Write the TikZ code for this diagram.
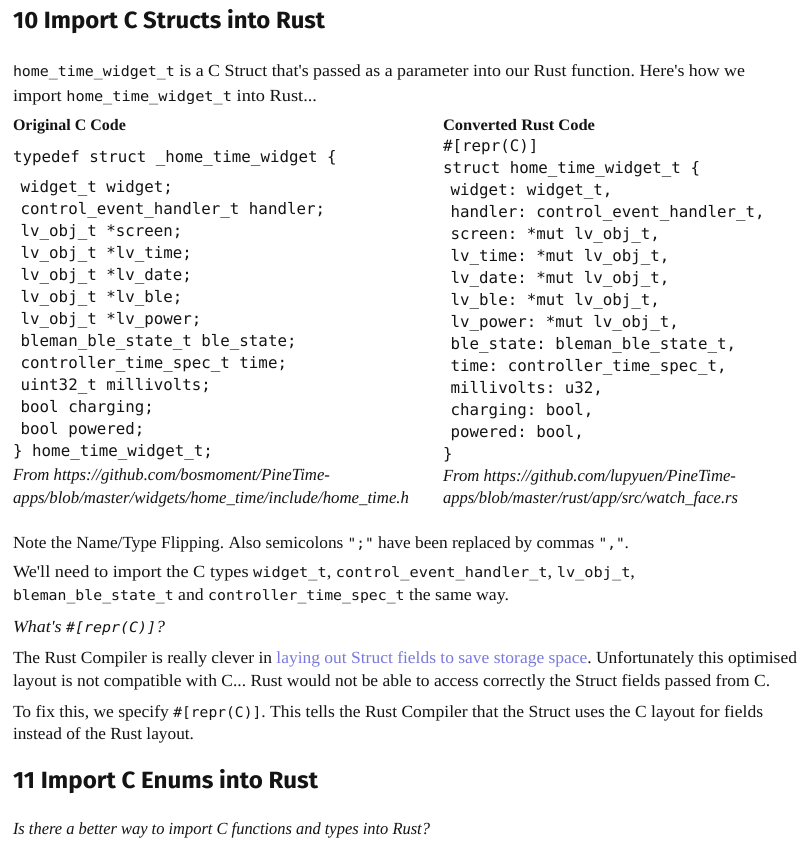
\documentclass[tikz,border=0pt]{standalone}
\usepackage{fontspec}
\usepackage{graphicx}
\setmainfont{Liberation Serif}
\setmonofont{DejaVu Sans Mono}
\newfontfamily\headfont{Fira Sans}
\definecolor{linkblue}{RGB}{122,122,222}
\definecolor{ink}{RGB}{20,20,20}
\frenchspacing
\tikzset{
  txt/.style={anchor=base west, inner sep=0pt, outer sep=0pt, text=ink, font=\fontsize{17}{19}\selectfont},
  head/.style={anchor=base west, inner sep=0pt, text=ink, font=\headfont\bfseries\fontsize{23.5}{26}\selectfont},
  sub/.style={txt, font=\bfseries\fontsize{16}{18}\selectfont},
  src/.style={txt, font=\itshape\fontsize{17}{19}\selectfont},
  code/.style={anchor=base west, inner sep=0pt, text=ink, font=\ttfamily\fontsize{15.8}{18}\selectfont},
}
\newcommand{\ic}[1]{{\ttfamily\fontsize{14.2}{18}\selectfont #1}}
\newcommand{\lsp}{\hspace*{7.5pt}}
\newcommand{\fitto}[2]{\resizebox{#1pt}{\height}{#2}}
\newcommand{\apos}{\textquotesingle}
\begin{document}
\begin{tikzpicture}[x=1pt,y=-1pt]
\useasboundingbox[fill=white] (0,0) rectangle (810,847);
\node[head] (h1) at (13,28) {\fitto{312}{10 Import C Structs into Rust}};
\node[txt] (p1a) at (13,76) {\fitto{732}{\ic{home\_time\_widget\_t} is a C Struct that\apos s passed as a parameter into our Rust function. Here\apos s how we}};
\node[txt] (p1b) at (13,101) {\fitto{304}{import \ic{home\_time\_widget\_t} into Rust...}};
\node[sub] (lh) at (13,130) {Original C Code};
\node[sub] (rh) at (443,130) {\fitto{152}{Converted Rust Code}};
% left code
\node[code] (l0) at (13,162) {typedef struct \_home\_time\_widget \{};
\node[code] (l1) at (13,192) {\lsp widget\_t widget;};
\node[code] (l2) at (13,214) {\lsp control\_event\_handler\_t handler;};
\node[code] (l3) at (13,236) {\lsp lv\_obj\_t *screen;};
\node[code] (l4) at (13,258) {\lsp lv\_obj\_t *lv\_time;};
\node[code] (l5) at (13,280) {\lsp lv\_obj\_t *lv\_date;};
\node[code] (l6) at (13,302) {\lsp lv\_obj\_t *lv\_ble;};
\node[code] (l7) at (13,324) {\lsp lv\_obj\_t *lv\_power;};
\node[code] (l8) at (13,346) {\lsp bleman\_ble\_state\_t ble\_state;};
\node[code] (l9) at (13,368) {\lsp controller\_time\_spec\_t time;};
\node[code] (l10) at (13,390) {\lsp uint32\_t millivolts;};
\node[code] (l11) at (13,412) {\lsp bool charging;};
\node[code] (l12) at (13,434) {\lsp bool powered;};
\node[code] (l13) at (13,456) {\} home\_time\_widget\_t;};
\node[src] (ls1) at (13,480) {\fitto{317}{From https://github.com/bosmoment/PineTime-}};
\node[src] (ls2) at (13,503) {\fitto{396}{apps/blob/master/widgets/home\_time/include/home\_time.h}};
% right code
\node[code] (r0) at (443,151) {\#[repr(C)]};
\node[code] (r00) at (443,173) {struct home\_time\_widget\_t \{};
\node[code] (r1) at (443,195) {\lsp widget: widget\_t,};
\node[code] (r2) at (443,217) {\lsp handler: control\_event\_handler\_t,};
\node[code] (r3) at (443,239) {\lsp screen: *mut lv\_obj\_t,};
\node[code] (r4) at (443,261) {\lsp lv\_time: *mut lv\_obj\_t,};
\node[code] (r5) at (443,283) {\lsp lv\_date: *mut lv\_obj\_t,};
\node[code] (r6) at (443,305) {\lsp lv\_ble: *mut lv\_obj\_t,};
\node[code] (r7) at (443,327) {\lsp lv\_power: *mut lv\_obj\_t,};
\node[code] (r8) at (443,349) {\lsp ble\_state: bleman\_ble\_state\_t,};
\node[code] (r9) at (443,371) {\lsp time: controller\_time\_spec\_t,};
\node[code] (r10) at (443,393) {\lsp millivolts: u32,};
\node[code] (r11) at (443,415) {\lsp charging: bool,};
\node[code] (r12) at (443,437) {\lsp powered: bool,};
\node[code] (r13) at (443,459) {\}};
\node[src] (rs1) at (443,481) {\fitto{293}{From https://github.com/lupyuen/PineTime-}};
\node[src] (rs2) at (443,503) {\fitto{295}{apps/blob/master/rust/app/src/watch\_face.rs}};
% paragraphs
\node[txt] (n1) at (13,548) {\fitto{616}{Note the Name/Type Flipping. Also semicolons \ic{";"} have been replaced by commas \ic{","}.}};
\node[txt] (w1) at (13,577) {\fitto{622}{We\apos ll need to import the C types \ic{widget\_t}, \ic{control\_event\_handler\_t}, \ic{lv\_obj\_t},}};
\node[txt] (w2) at (13,600) {\fitto{496}{\ic{bleman\_ble\_state\_t} and \ic{controller\_time\_spec\_t} the same way.}};
\node[src] (q1) at (13,632) {\fitto{152}{What\apos s \ic{\itshape\#[repr(C)]}?}};
\node[txt] (c1) at (13,663) {\fitto{784}{The Rust Compiler is really clever in \textcolor{linkblue}{laying out Struct fields to save storage space}. Unfortunately this optimised}};
\node[txt] (c2) at (13,686) {\fitto{757}{layout is not compatible with C... Rust would not be able to access correctly the Struct fields passed from C.}};
\node[txt] (f1) at (13,717) {\fitto{750}{To fix this, we specify \ic{\#[repr(C)]}. This tells the Rust Compiler that the Struct uses the C layout for fields}};
\node[txt] (f2) at (13,739) {\fitto{181}{instead of the Rust layout.}};
\node[head] (h2) at (13,788) {\fitto{305}{11 Import C Enums into Rust}};
\node[src] (q2) at (13,834) {\fitto{417}{Is there a better way to import C functions and types into Rust?}};
\end{tikzpicture}
\end{document}
